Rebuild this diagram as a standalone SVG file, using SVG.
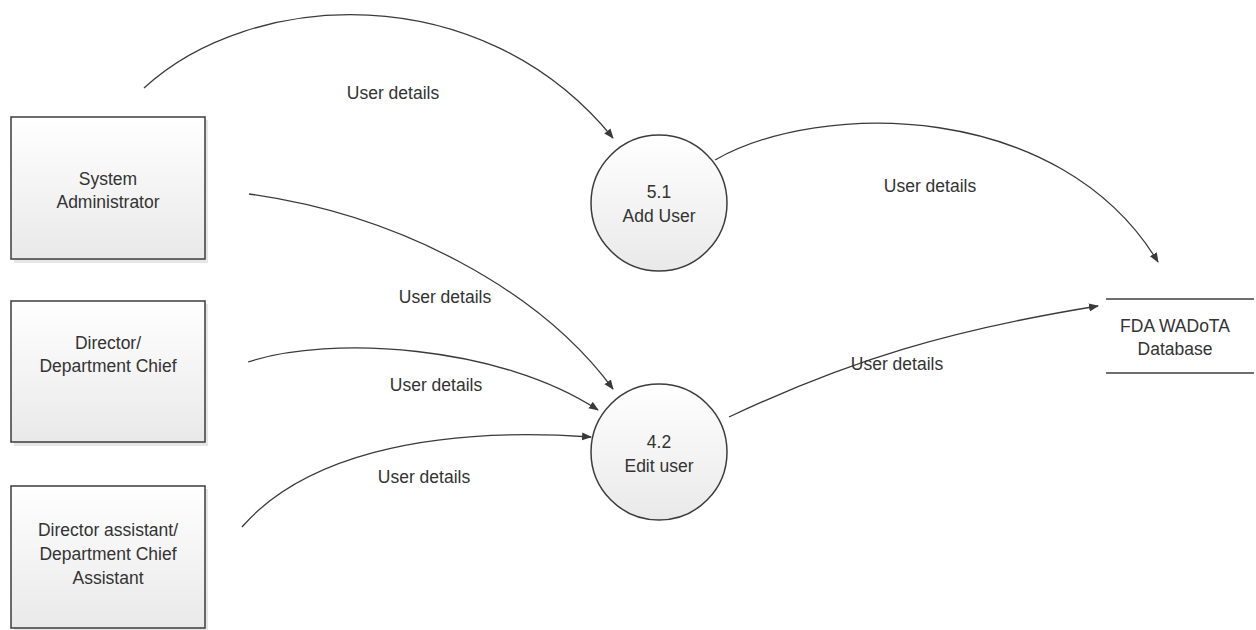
<svg xmlns="http://www.w3.org/2000/svg" width="1256" height="630" viewBox="0 0 1256 630">
<defs>
<linearGradient id="g" x1="0" y1="0" x2="0" y2="1">
<stop offset="0" stop-color="#ffffff"/>
<stop offset="1" stop-color="#e9e9e9"/>
</linearGradient>
<marker id="arr" viewBox="0 0 10 10" refX="9" refY="5" markerWidth="10" markerHeight="10" markerUnits="userSpaceOnUse" orient="auto">
<path d="M0,1 L10,5 L0,9 z" fill="#3a3a3a"/>
</marker>
<style>
.box{fill:url(#g);stroke:#3c3c3c;stroke-width:1.5}
.shadow{fill:#d6d6d6;opacity:0.6}
.t{font-family:"Liberation Sans",Arial,sans-serif;font-size:17.5px;fill:#333;text-anchor:middle}
.c{fill:none;stroke:#3a3a3a;stroke-width:1.3;marker-end:url(#arr)}
.db{stroke:#3c3c3c;stroke-width:1.5}
</style>
</defs>
<rect width="1256" height="630" fill="#ffffff"/>
<g id="sysadmin">
<rect class="shadow" x="14" y="120" width="194" height="143"/>
<rect class="box" x="11" y="117" width="194" height="142"/>
<text class="t" x="108" y="185">System</text>
<text class="t" x="108" y="208">Administrator</text>
</g>
<g id="director">
<rect class="shadow" x="14" y="304" width="194" height="142"/>
<rect class="box" x="11" y="301" width="194" height="141"/>
<text class="t" x="108" y="349">Director/</text>
<text class="t" x="108" y="372">Department Chief</text>
</g>
<g id="assistant">
<rect class="shadow" x="14" y="489" width="194" height="142"/>
<rect class="box" x="11" y="486" width="194" height="142"/>
<text class="t" x="108" y="536">Director assistant/</text>
<text class="t" x="108" y="560">Department Chief</text>
<text class="t" x="108" y="584">Assistant</text>
</g>
<g id="p51">
<circle class="box" cx="659" cy="203" r="68"/>
<text class="t" x="659" y="198">5.1</text>
<text class="t" x="659" y="222">Add User</text>
</g>
<g id="p42">
<circle class="box" cx="659" cy="452" r="68"/>
<text class="t" x="659" y="448">4.2</text>
<text class="t" x="659" y="472">Edit user</text>
</g>
<g id="db">
<line class="db" x1="1106" y1="299" x2="1254" y2="299"/>
<line class="db" x1="1106" y1="373" x2="1254" y2="373"/>
<text class="t" x="1175" y="332">FDA WADoTA</text>
<text class="t" x="1175" y="355">Database</text>
</g>
<g id="connectors">
<path class="c" d="M144,88 C250,-10 480,-25 613,138"/>
<path class="c" d="M715,160 C820,100 1060,100 1158,262"/>
<path class="c" d="M249,194 C400,215 540,290 613,389"/>
<path class="c" d="M248,362 C330,335 500,345 598,410"/>
<path class="c" d="M242,527 C300,460 420,425 591,437"/>
<path class="c" d="M729,417 C850,360 950,330 1098,306"/>
<text class="t" x="393" y="99">User details</text>
<text class="t" x="930" y="192">User details</text>
<text class="t" x="445" y="303">User details</text>
<text class="t" x="436" y="391">User details</text>
<text class="t" x="424" y="483">User details</text>
<text class="t" x="897" y="370">User details</text>
</g>
</svg>
